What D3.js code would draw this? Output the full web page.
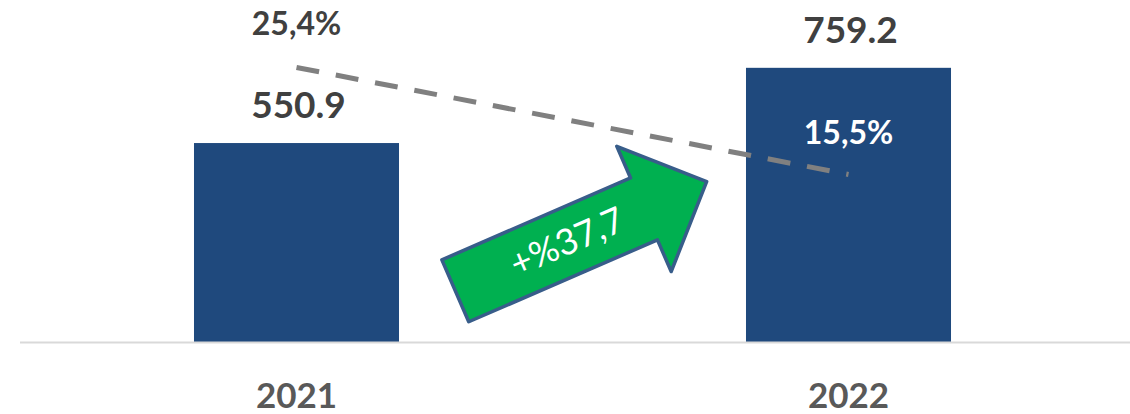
<!DOCTYPE html>
<html>
<head>
<meta charset="utf-8">
<script src="https://cdn.jsdelivr.net/npm/d3@7"></script>
<style>
  html, body { margin: 0; padding: 0; background: #ffffff; }
  svg { display: block; font-family: Lato, "Open Sans", sans-serif; }
</style>
</head>
<body>
<svg id="chart" width="1130" height="414"></svg>
<script>
// ---- data ----
const categories = ["2021", "2022"];
const barValues = [550.9, 759.2];
const barLabels = ["550.9", "759.2"];
const ratioValues = [25.4, 15.5];
const ratioLabels = ["25,4%", "15,5%"];
const growthLabel = "+%37,7";

// ---- layout ----
const W = 1130, H = 414;
const baseY = 342;
const svg = d3.select("#chart");

const x = d3.scaleBand().domain(categories).range([20.5, 1124.5]).paddingInner(0.6286).paddingOuter(0.3143);
const y = d3.scaleLinear().domain([0, 947]).range([baseY, 0]);
const y2 = d3.scaleLinear().domain([0, 31.64]).range([baseY, 0]);

// bars
svg.selectAll("rect.bar").data(barValues).join("rect")
  .attr("class", "bar")
  .attr("x", (d, i) => x(categories[i]))
  .attr("y", d => y(d))
  .attr("width", x.bandwidth())
  .attr("height", d => baseY - y(d))
  .attr("fill", "#1F497D");

// baseline axis
const xAxis = d3.axisBottom(x).tickSize(0).tickPadding(0);
const gAxis = svg.append("g").attr("transform", `translate(0,${baseY})`).call(xAxis);
gAxis.select(".domain").remove();
gAxis.selectAll("text")
  .attr("dy", null)
  .attr("y", 66)
  .attr("font-size", 35)
  .attr("font-weight", "bold")
  .attr("fill", "#595959")
  .attr("font-family", "Lato, sans-serif");
svg.append("line")
  .attr("x1", 20).attr("x2", 1130)
  .attr("y1", baseY + 0.5).attr("y2", baseY + 0.5)
  .attr("stroke", "#D9D9D9").attr("stroke-width", 2);

// dashed line (secondary axis)
const cx = (d, i) => x(categories[i]) + x.bandwidth() / 2;
const line = d3.line().x((d, i) => cx(d, i)).y(d => y2(d));
svg.append("path")
  .datum(ratioValues)
  .attr("d", line)
  .attr("fill", "none")
  .attr("stroke", "#808080")
  .attr("stroke-width", 5)
  .attr("stroke-dasharray", "23,17");

// bar value labels
svg.selectAll("text.bval").data(barValues).join("text")
  .attr("class", "bval")
  .attr("x", (d, i) => cx(d, i) + 2)
  .attr("y", d => y(d) - 25)
  .attr("text-anchor", "middle")
  .attr("font-size", 37)
  .attr("font-weight", "bold")
  .attr("fill", "#404040")
  .text((d, i) => barLabels[i]);

// ratio labels
const ratioColors = ["#404040", "#FFFFFF"];
const ratioOffsets = [-32, -30];
svg.selectAll("text.rval").data(ratioValues).join("text")
  .attr("class", "rval")
  .attr("x", (d, i) => cx(d, i))
  .attr("y", (d, i) => y2(d) + ratioOffsets[i])
  .attr("text-anchor", "middle")
  .attr("font-size", 32)
  .attr("font-weight", "bold")
  .attr("fill", (d, i) => ratioColors[i])
  .text((d, i) => ratioLabels[i]);

// growth arrow
const arrowG = svg.append("g")
  .attr("transform", "translate(455.3,290.8) rotate(-23.46)");
const L = 274, hl = 68.3, sw = 33.75, hw = 68.3;
arrowG.append("path")
  .attr("d", `M0,${-sw} L${L - hl},${-sw} L${L - hl},${-hw} L${L},0 L${L - hl},${hw} L${L - hl},${sw} L0,${sw} Z`)
  .attr("fill", "#00B050")
  .attr("stroke", "#385D8A")
  .attr("stroke-width", 3.5)
  .attr("stroke-linejoin", "round");
arrowG.append("text")
  .attr("x", 122)
  .attr("y", 12)
  .attr("text-anchor", "middle")
  .attr("font-size", 36)
  .attr("fill", "#FFFFFF")
  .text(growthLabel);
</script>
</body>
</html>
